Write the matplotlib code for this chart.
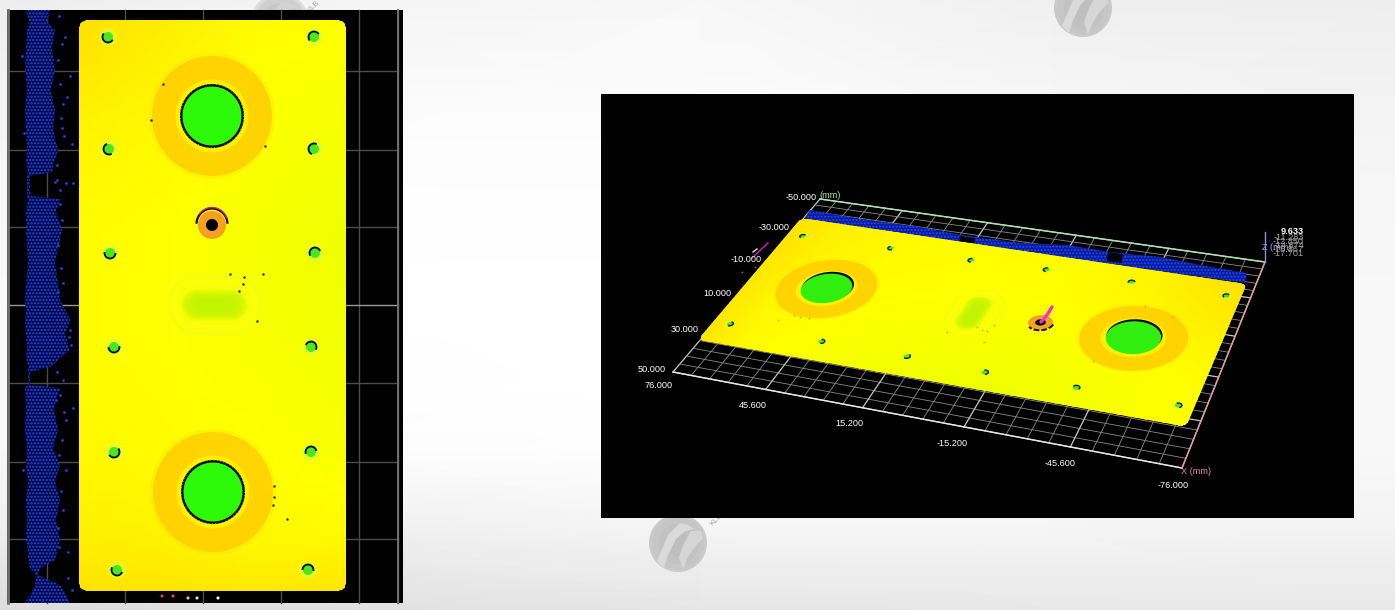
import numpy as np
import matplotlib
matplotlib.use("Agg")
import matplotlib.pyplot as plt
from matplotlib.colors import LinearSegmentedColormap
from matplotlib.patches import Polygon, Rectangle

plt.rcParams['hatch.linewidth'] = 1.0
plt.rcParams['font.family'] = ['Liberation Sans', 'Noto Sans CJK SC', 'DejaVu Sans']

# ---- slide background (grey level) ----
bg_x = [0, 350, 700, 1050, 1395]
bg_y = [0, 150, 300, 450, 530, 610]
bg_level = [[.93, .96, .97, .94, .93],
            [.96, .99, .99, .98, .96],
            [.97, 1.0, 1.0, .99, .97],
            [.97, .99, 1.0, .99, .97],
            [.93, .94, .96, .96, .95],
            [.86, .88, .90, .91, .91]]

# ---- left (top-down) panel ----
panel_left = (7, 10, 396, 593)
grid_v = [47, 125, 203, 281, 359]
grid_h = [71, 150, 227, 305, 383, 462, 539]
plate_box = (79, 20, 346, 591)

# plate height map, coarse (0 = orange ... 1 = green)
plate_u = [79, 170, 260, 346]
plate_v = [20, 120, 230, 340, 450, 540, 591]
plate_h = [[.40, .45, .49, .50],
           [.46, .48, .51, .53],
           [.49, .50, .53, .56],
           [.49, .50, .52, .55],
           [.48, .49, .50, .52],
           [.45, .46, .48, .48],
           [.41, .42, .43, .42]]

# fixture holes on the plate
hole_x = [108, 314, 109, 314, 110, 315, 114, 311, 114, 311, 117, 308]
hole_y = [37, 37, 149, 149, 253, 253, 347, 347, 452, 452, 570, 570]
hole_arc = [40, 150, 70, 120, 10, 160, 0, 210, 330, 170, 30, 190]

big_x = [212, 213]
big_y = [116, 492]
big_r = [29.5, 29.5]
ring_r = [60, 60]
boss = (212, 225, 14, 6)
slot = (197, 232, 305, 15)

specks_x = [163, 151, 265, 230, 244, 243, 239, 263, 257, 274, 274, 273, 287]
specks_y = [84, 120, 146, 274, 277, 284, 291, 274, 321, 486, 497, 505, 519]

# left-panel blue stripe outline
band_y = [10, 22, 30, 48, 70, 90, 110, 130, 150, 162, 172, 176, 178, 196, 199, 212, 230, 262, 300, 312, 320, 335, 350,
          358, 366, 372, 385, 388, 408, 430, 448, 465, 482, 500, 520, 540, 552, 560, 568, 575, 585, 595, 603]
band_l = [26, 29, 27, 26, 25, 27, 25, 26, 27, 26, 28, 27, 27, 27, 28, 26, 26, 28, 25, 26, 25, 26, 27,
          26, 28, 28, 28, 25, 26, 25, 27, 26, 28, 26, 27, 26, 28, 28, 30, 36, 35, 30, 25]
band_r = [50, 47, 55, 52, 55, 51, 55, 53, 58, 54, 52, 30, 30, 30, 60, 56, 62, 55, 60, 66, 70, 65, 70,
          60, 52, 30, 30, 60, 54, 58, 53, 60, 55, 60, 56, 60, 57, 55, 40, 38, 60, 66, 70]
stray_x = [65, 70, 67, 62, 57, 73, 66, 72, 69, 71, 70, 66, 73, 68, 59, 62, 58, 60, 63, 61, 64, 57, 60, 62, 58, 61,
           63, 58, 60, 64, 62, 59, 66, 61, 63, 58, 22, 24, 23, 55, 60, 57, 63, 68, 72, 56, 59]
stray_y = [37, 76, 97, 128, 180, 183, 183, 144, 337, 345, 330, 420, 408, 552, 16, 44, 60, 84, 104, 118, 136, 165,
           204, 220, 245, 268, 283, 292, 395, 412, 440, 455, 470, 491, 510, 528, 56, 133, 470, 182, 190, 372, 380,
           578, 590, 400, 547]
bits_x = [162, 173, 188, 197, 218]
bits_y = [596, 596, 598, 598, 598]
bits_c = ['#c03fb0', '#e040a0', '#f0b0e0', '#e0e0e0', '#ffffff']

# ---- right (3-D) panel ----
panel_right = (601, 94, 753, 424)
plate_src = [(346, 20), (346, 591), (79, 591), (79, 20)]
plate_dst = [(1186, 427), (698, 340), (801, 218), (1247, 284)]
floor_dst = [(673, 372), (1182, 468), (1265, 262), (820, 199)]
floor_major = 5
floor_minor = 5
band3_top_x = [810, 860, 920, 950, 975, 1020, 1067, 1110, 1160, 1205, 1247]
band3_top_y = [210, 219, 227, 233, 237, 243, 245, 252, 257, 266, 273]
band3_low_x = [1245, 803]
band3_low_y = [283, 221]
gap3_x = [960, 1108]
gap3_y = [236, 252]
gap3_w = [15, 15]

tick_labels = ['-50.000', '-30.000', '-10.000', '10.000', '30.000', '50.000',
               '76.000', '45.600', '15.200', '-15.200', '-45.600', '-76.000']
tick_x = [817, 790, 762, 731, 699, 666, 673, 767, 863, 968, 1076, 1189]
tick_y = [197, 227, 260, 294, 330, 369, 386, 405, 423, 443, 464, 486]
z_labels = ['9.633', '-11.283', '-12.850', '-14.874', '-15.867', '-17.701']
z_tick_y = [232, 237, 241, 245, 250, 254]

logo_x = [678, 1083, 280]
logo_y = [543, 8, 22]
logo_alpha = [1, 1, .55]

# ---------------------------------------------------------------
W, H = 1395, 610
fig = plt.figure(figsize=(W/100, H/100), dpi=100)
ax = fig.add_axes([0, 0, 1, 1])
ax.set_xlim(0, W)
ax.set_ylim(H, 0)
ax.axis('off')

cmap_bg = LinearSegmentedColormap.from_list('g', ['#000000', '#ffffff'])
ax.pcolormesh(bg_x, bg_y, np.array(bg_level), shading='gouraud', cmap=cmap_bg, vmin=0, vmax=1, zorder=0)


def homography(src, dst):
    A, b = [], []
    for (x, y), (u, v) in zip(src, dst):
        A.append([x, y, 1, 0, 0, 0, -u*x, -u*y]); b.append(u)
        A.append([0, 0, 0, x, y, 1, -v*x, -v*y]); b.append(v)
    m = np.linalg.solve(np.array(A, float), np.array(b, float))
    return np.append(m, 1).reshape(3, 3)


def make_T(M):
    def T(x, y):
        x, y = np.asarray(x, float), np.asarray(y, float)
        d = M[2, 0]*x + M[2, 1]*y + M[2, 2]
        return (M[0, 0]*x + M[0, 1]*y + M[0, 2])/d, (M[1, 0]*x + M[1, 1]*y + M[1, 2])/d
    return T


ident = lambda x, y: (np.asarray(x, float), np.asarray(y, float))
T3 = make_T(homography(plate_src, plate_dst))
Tfloor = make_T(homography([(0, 0), (1, 0), (1, 1), (0, 1)], floor_dst))


def circle(cx, cy, r, a0=0, a1=360, n=90):
    t = np.radians(np.linspace(a0, a1, n))
    return cx + r*np.cos(t), cy + r*np.sin(t)


def stadium(x0, x1, cy, r):
    t = np.radians(np.linspace(-90, 90, 30))
    xs = np.r_[x1 + r*np.cos(t), x0 - r*np.cos(t)]
    ys = np.r_[cy + r*np.sin(t), cy - r*np.sin(t)]
    return xs, ys


def rounded(box, r):
    x0, y0, x1, y1 = box
    xs, ys = [], []
    for cx, cy, a in [(x1-r, y0+r, -90), (x1-r, y1-r, 0), (x0+r, y1-r, 90), (x0+r, y0+r, 180)]:
        a_x, a_y = circle(cx, cy, r, a, a+90, 10)
        xs.extend(a_x); ys.extend(a_y)
    return np.array(xs), np.array(ys)


def poly(T, xs, ys, **kw):
    u, v = T(xs, ys)
    p = Polygon(np.c_[u, v], closed=True, **kw)
    ax.add_patch(p)
    return p


cmap_h = LinearSegmentedColormap.from_list('h', [(0, '#ff9000'), (.35, '#ffd000'), (.5, '#ffff00'),
                                                  (.6, '#e4ff00'), (.8, '#a0f000'), (1, '#28fa00')])


def draw_plate(T, three_d, z):
    uu, vv = np.meshgrid(np.linspace(plate_u[0]-6, plate_u[-1]+6, 40), np.linspace(plate_v[0]-6, plate_v[-1]+6, 60))
    cc = np.empty_like(uu)
    h = np.array(plate_h)
    for i in range(uu.shape[0]):
        for j in range(uu.shape[1]):
            row = np.array([np.interp(uu[i, j], plate_u, r) for r in h])
            cc[i, j] = np.interp(vv[i, j], plate_v, row)
    X, Y = T(uu, vv)
    outline = poly(T, *rounded(plate_box, 9), facecolor='none', edgecolor='none', zorder=z)
    mesh = ax.pcolormesh(X, Y, cc, shading='gouraud', cmap=cmap_h, vmin=0, vmax=1, zorder=z)
    mesh.set_clip_path(outline)

    # rings and bores
    for cx, cy, r, rr in zip(big_x, big_y, big_r, ring_r):
        poly(T, *circle(cx, cy, rr+3), facecolor='#ffe000', alpha=.3, edgecolor='none', zorder=z+.1)
        poly(T, *circle(cx, cy, rr), facecolor='#ffcc00', alpha=.8, edgecolor='none', zorder=z+.1)
        poly(T, *circle(cx, cy, r+7), facecolor='#fff000', edgecolor='none', zorder=z+.2)
        if three_d:
            poly(T, *circle(cx-3.5, cy, r+1.5), facecolor='#050505', edgecolor='none', zorder=z+.3)
            poly(T, *circle(cx, cy, r+1), facecolor='#30ee10', edgecolor='none', zorder=z+.35)
        else:
            poly(T, *circle(cx, cy, r+2.5), facecolor='#080808', edgecolor='none', zorder=z+.3)
            u, v = T(*circle(cx, cy, r+2.2))
            ax.plot(u, v, color='#c8d020', lw=.6, ls=(0, (1, 3)), zorder=z+.32)
            poly(T, *circle(cx, cy, r), facecolor='#2dfa08', edgecolor='none', zorder=z+.35)

    # central slot: soft nested stadium shapes
    sx0, sx1, sy, sr = slot
    poly(T, *stadium(sx0, sx1, sy, sr+14), facecolor='#e8ff20', alpha=.8, edgecolor='none', zorder=z+.4)
    poly(T, *stadium(sx0, sx1, sy, sr+12), facecolor='#ffff00', edgecolor='none', zorder=z+.4)
    poly(T, *stadium(sx0, sx1, sy, sr+6), facecolor='#eeff20', alpha=.7, edgecolor='none', zorder=z+.4)
    poly(T, *stadium(sx0, sx1, sy, sr+4), facecolor='#ffff00', alpha=.8, edgecolor='none', zorder=z+.4)
    for k in range(12):
        shrink = max(k - 4, 0)
        poly(T, *stadium(sx0+shrink, sx1-shrink, sy, sr+1-k*1.1), facecolor='#bcf400', alpha=.17,
             edgecolor='none', zorder=z+.4)

    # boss with dark centre
    bx, by, br, bi = boss
    poly(T, *circle(bx, by, br), facecolor='#f5a020', edgecolor='none', zorder=z+.5)
    poly(T, *circle(bx, by, bi), facecolor='#050505', edgecolor='none', zorder=z+.6)
    if not three_d:
        u, v = T(*circle(bx, by-1, br+1.5, 185, 355, 30))
        ax.plot(u, v, color='#101010', lw=1.6, zorder=z+.55)
        u, v = T(*circle(bx, by-2, br+1.5, 215, 340, 20))
        ax.plot(u, v, color='#c020b0', lw=1.0, zorder=z+.56)
    else:
        u, v = T(*circle(bx, by, br+1, 270, 400, 20))
        ax.plot(u, v, color='#101010', lw=1.4, ls=(0, (3, 1)), zorder=z+.55)

    # fixture holes
    k = .7 if three_d else 1
    for hx, hy, a in zip(hole_x, hole_y, hole_arc):
        poly(T, *circle(hx, hy, 9*k), facecolor='#d8ff40', alpha=.55, edgecolor='none', zorder=z+.7)
        poly(T, *circle(hx, hy, 5*k), facecolor='#48e820', edgecolor='none', zorder=z+.8)
        u, v = T(*circle(hx, hy, 5.5*k, a, a+170, 14))
        ax.plot(u, v, color='#0a0a0a', lw=.9 if three_d else 1.3, zorder=z+.9)

    # stray dark specks
    u, v = T(specks_x, specks_y)
    if three_d:
        ax.scatter(u, v, s=2, color='#d89010', alpha=.7, linewidths=0, zorder=z+.9)
    else:
        ax.scatter(u, v, s=3, color='#202010', linewidths=0, zorder=z+.9)


# ---- left panel ----
lx, ly, lw_, lh = panel_left
panel_clip = Rectangle((lx, ly), lw_, lh, facecolor='black', edgecolor='none', zorder=1)
ax.add_patch(panel_clip)
for gx in grid_v + [398]:
    ax.plot([gx, gx], [ly, ly+lh], color='#4c4c4c', lw=1.0, zorder=1.1, clip_path=panel_clip)
for gy in grid_h:
    ax.plot([8, 398], [gy, gy], color='#9a9a9a' if gy == 305 else '#4c4c4c', lw=1.0, zorder=1.1)
ax.plot([8, 8], [ly, ly+lh], color='#707070', lw=2, zorder=1.1)
ax.plot([398, 398], [ly, ly+lh], color='#707070', lw=1.4, zorder=1.1)
ax.fill_betweenx(band_y, band_l, band_r, facecolor='#040a40', edgecolor='#2048ff', hatch='.....', lw=0, zorder=1.2)
ax.scatter(stray_x, stray_y, s=4, color='#1d40e0', linewidths=0, zorder=1.3)
ax.scatter(bits_x, bits_y, s=5, color=bits_c, linewidths=0, zorder=1.3)
draw_plate(ident, False, 2)

# ---- right panel ----
rx, ry, rw, rh = panel_right
ax.add_patch(Rectangle((rx, ry), rw, rh, facecolor='black', edgecolor='none', zorder=3))
n = floor_major*floor_minor
for i in range(n+1):
    major = i % floor_minor == 0
    col, lw = ('#c8c8c8', .9) if major else ('#8a8a8a', .6)
    u, v = Tfloor([i/n, i/n], [0, 1])
    ax.plot(u, v, color=col, lw=lw, zorder=3.1)
    u, v = Tfloor([0, 1], [i/n, i/n])
    ax.plot(u, v, color=col, lw=lw, zorder=3.1)
u, v = Tfloor([0, 1], [0, 0]); ax.plot(u, v, color='#e8e8e8', lw=1, zorder=3.2)
u, v = Tfloor([0, 1], [1, 1]); ax.plot(u, v, color='#a8e8a8', lw=1, zorder=3.2)
u, v = Tfloor([1, 1], [0, 1]); ax.plot(u, v, color='#e89898', lw=1, zorder=3.2)
ax.plot([floor_dst[2][0]]*2, [floor_dst[2][1], 232], color='#9090d8', lw=1, zorder=3.2)

xs3 = band3_top_x + band3_low_x
ys3 = band3_top_y + band3_low_y
ax.add_patch(Polygon(np.c_[xs3, ys3], closed=True, facecolor='#0c1c98', edgecolor='#2048ff', hatch='.....', lw=0, zorder=3.3))
for gx, gy, gw in zip(gap3_x, gap3_y, gap3_w):
    ax.add_patch(Rectangle((gx, gy), gw, 9, angle=8, facecolor='#050505', edgecolor='none', zorder=3.35))
draw_plate(T3, True, 4)

ax.plot([1052, 1047, 1041], [307, 315, 322], color='#f030d0', lw=2.4, zorder=5, solid_capstyle='round')
ax.plot([768, 752], [243, 258], color='#d020c0', lw=1, zorder=5)
ax.plot([757, 753], [249, 252], color='#e0e0e0', lw=1, zorder=5)
ax.scatter([742, 755], [272, 267], s=2, color='#c020b0', linewidths=0, zorder=5)

for s, tx, ty in zip(tick_labels, tick_x, tick_y):
    ax.text(tx, ty, s, color='white', fontsize=6.6, ha='right', va='center', zorder=6)
ax.text(819, 195, '(mm)', color='#a8e8a8', fontsize=6.6, ha='left', va='center', zorder=6)
ax.text(1181, 472, 'X (mm)', color='#e89090', fontsize=6.6, ha='left', va='center', zorder=6)
ax.text(1262, 248, 'Z (mm)', color='#9a9ae8', fontsize=6.6, ha='left', va='center', zorder=6)
for i, (s, ty) in enumerate(zip(z_labels, z_tick_y)):
    ax.text(1304, ty, s, color='white' if i == 0 else '#a0a0a0', fontsize=6.6,
            fontweight='bold' if i == 0 else 'normal', ha='right', va='center', zorder=6 + (i == 0))

# ---- watermark logos ----
for i, (mx, my, la) in enumerate(zip(logo_x, logo_y, logo_alpha)):
    z = .5
    for r, g in [(29, '#cacaca'), (26, '#c6c6c6'), (20, '#c2c2c2'), (12, '#bebebe')]:
        poly(ident, *circle(mx+(29-r)*.1, my+(29-r)*.1, r), facecolor=g, alpha=la, edgecolor='none', zorder=z)
    sw1_x = np.array([-21, -10, 2, 10, 16, 7, -2, -10, -14]) + mx
    sw1_y = np.array([18, -8, -20, -18, -14, -12, -4, 12, 25]) + my
    sw2_x = np.array([6, 13, 23, 25, 15, 9, 5, 1]) + mx
    sw2_y = np.array([0, -12, -12, -5, 6, 16, 27, 14]) + my
    poly(ident, sw1_x, sw1_y, facecolor='#dadada', alpha=la, edgecolor='none', zorder=z+.01)
    poly(ident, sw2_x, sw2_y, facecolor='#d6d6d6', alpha=la, edgecolor='none', zorder=z+.01)
    if i == 0:
        ax.text(mx+38, my-23, 'KLB', color='#a8a8a8', fontsize=5.5, rotation=45, ha='center', va='center', zorder=.6)
    elif i == 2:
        ax.text(mx+33, my-15, 'KLB', color='#a8a8a8', fontsize=5.5, rotation=45, ha='center', va='center', zorder=.6)

fig.savefig('out.png', dpi=100)
